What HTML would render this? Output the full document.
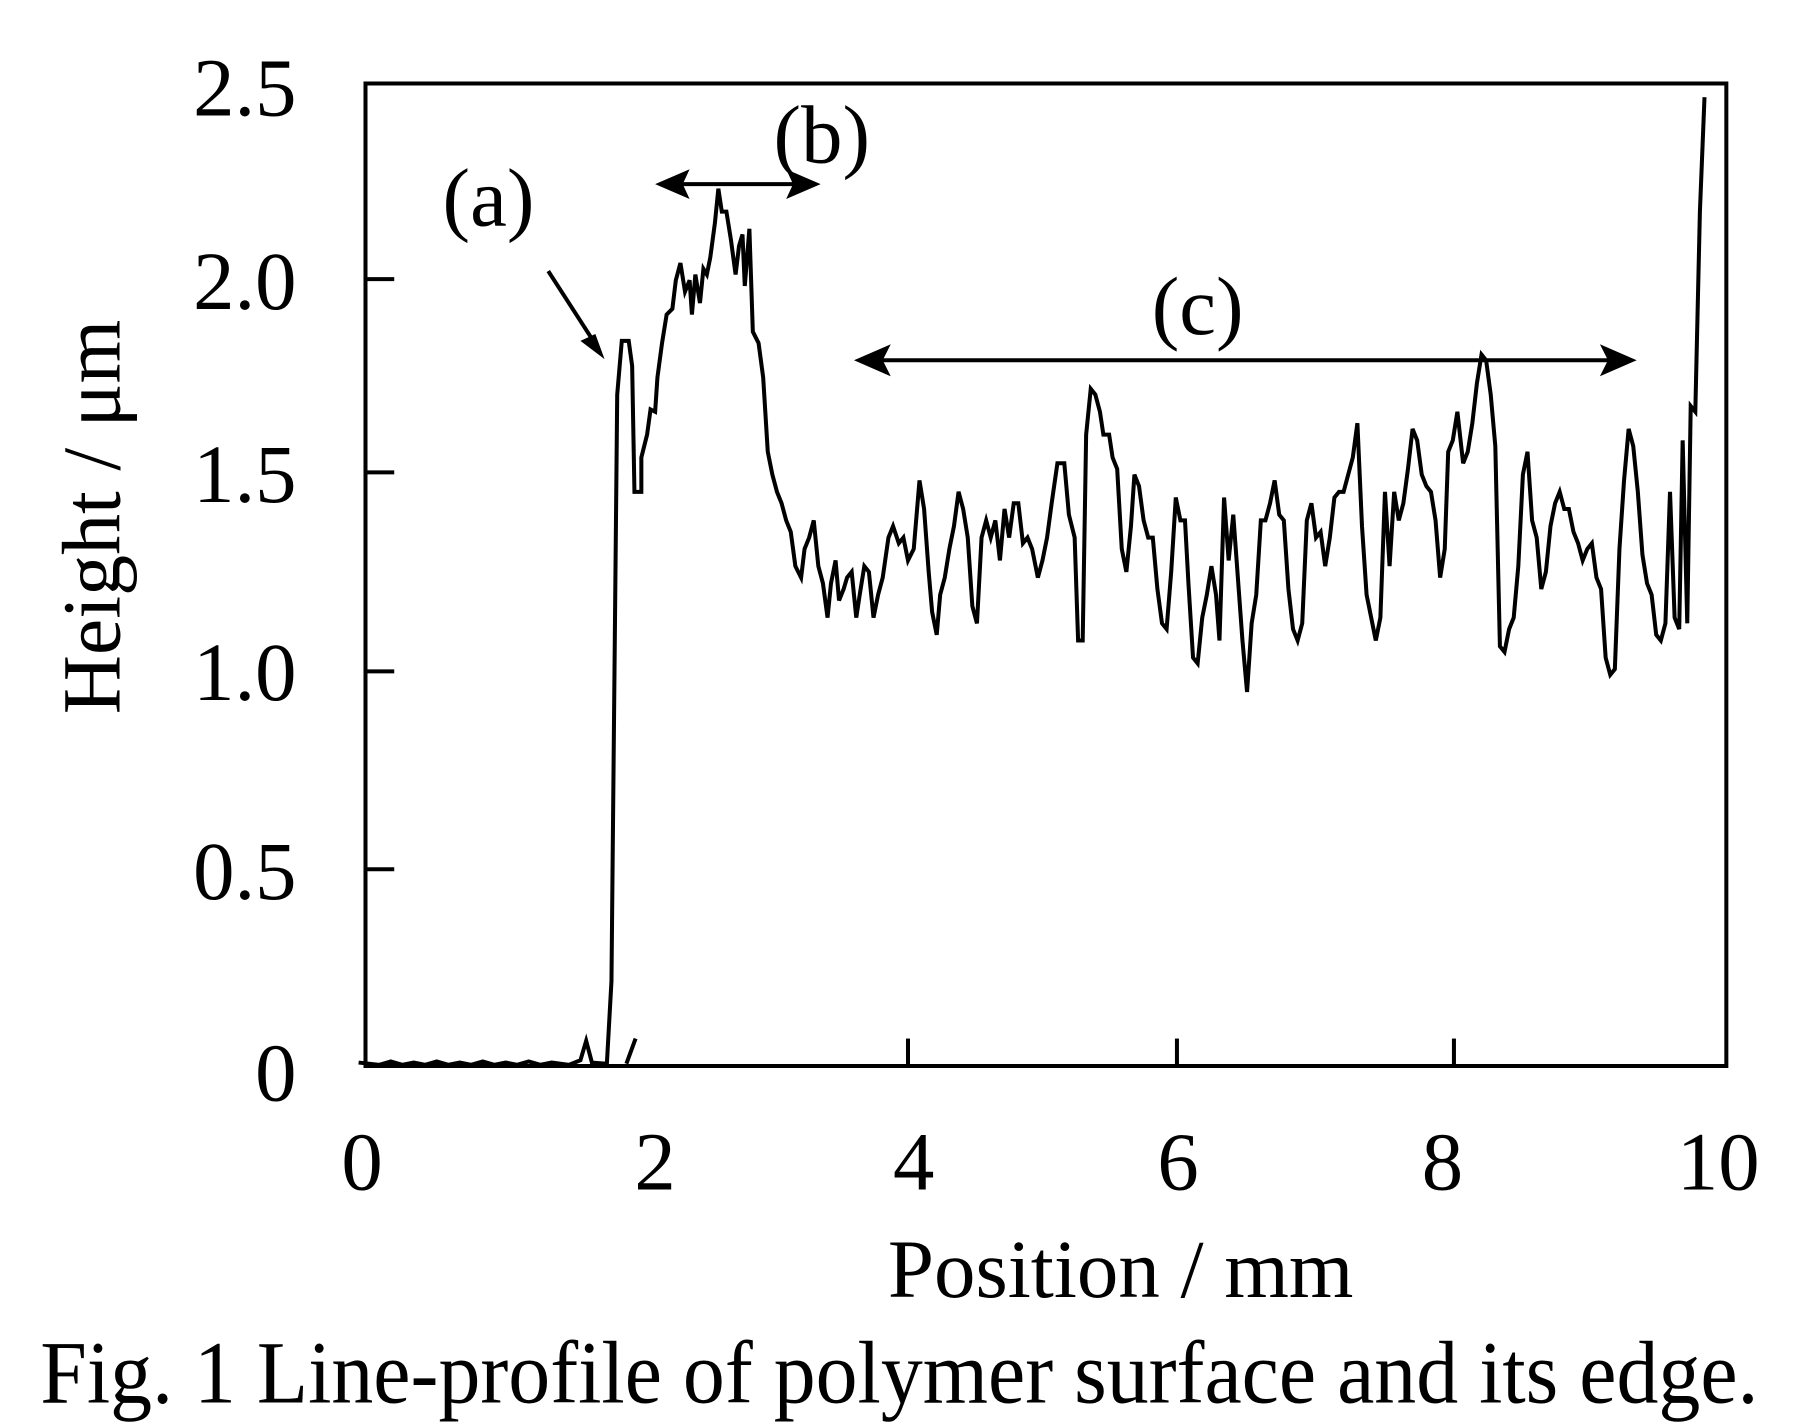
<!DOCTYPE html>
<html><head><meta charset="utf-8"><style>html,body{margin:0;padding:0;background:#fff}svg{display:block}</style></head>
<body>
<svg width="1793" height="1424" viewBox="0 0 1560 1245" preserveAspectRatio="none" xmlns="http://www.w3.org/2000/svg" font-family="Liberation Serif, serif" fill="#000">
<rect x="318" y="73" width="1184" height="859" fill="none" stroke="#000" stroke-width="3.5"/>
<g stroke="#000" stroke-width="3.5">
<line x1="318" y1="244" x2="343" y2="244"/><line x1="318" y1="413" x2="343" y2="413"/><line x1="318" y1="587" x2="343" y2="587"/><line x1="318" y1="760" x2="343" y2="760"/>
<line x1="790" y1="932" x2="790" y2="908"/><line x1="1024" y1="932" x2="1024" y2="908"/><line x1="1265" y1="932" x2="1265" y2="908"/>
</g>
<g font-size="72" text-anchor="end">
<text x="258" y="101">2.5</text><text x="258" y="270">2.0</text><text x="258" y="439">1.5</text><text x="258" y="612">1.0</text><text x="258" y="786">0.5</text><text x="258" y="962">0</text>
</g>
<g font-size="72" text-anchor="middle">
<text x="315" y="1040">0</text><text x="570" y="1040">2</text><text x="795" y="1040">4</text><text x="1025" y="1040">6</text><text x="1255" y="1040">8</text><text x="1495" y="1040">10</text>
<text x="975" y="1134" textLength="405" lengthAdjust="spacingAndGlyphs">Position / mm</text>
<text x="425" y="197">(a)</text><text x="715" y="142">(b)</text><text x="1042" y="292">(c)</text>
</g>
<text transform="translate(104,452) rotate(-90)" font-size="72" text-anchor="middle" textLength="345" lengthAdjust="spacingAndGlyphs">Height / μm</text>
<text x="35" y="1226" font-size="78" textLength="1495" lengthAdjust="spacingAndGlyphs">Fig. 1 Line-profile of polymer surface and its edge.</text>
<g stroke="#000" stroke-width="3.5" fill="none">
<line x1="477" y1="237" x2="520" y2="304"/>
<line x1="580" y1="161" x2="704" y2="161"/>
<line x1="755" y1="315" x2="1412" y2="315"/>
</g>
<g fill="#000">
<polygon points="526,314 505,298 518,292"/>
<polygon points="570,161 600,148 594,161 600,174"/>
<polygon points="714,161 684,148 690,161 684,174"/>
<polygon points="743,315 775,301 768,315 775,329"/>
<polygon points="1424,315 1392,301 1399,315 1392,329"/>
</g>
<polyline id="prof" fill="none" stroke="#000" stroke-width="3.5" stroke-linejoin="miter" points="312,929 330,931 340,928 350,931 360,929 370,931 380,928 390,931 400,929 410,931 420,928 430,931 440,929 450,931 460,928 470,931 480,929 495,931 505,927 510,910 515,929 528,930 532,858 537,345 541,298 547,298 550,320 552,430 558,430 558,400 563,380 566,358 570,360 572,330 576,300 580,275 585,270 588,245 592,230 596,255 600,245 602,275 605,240 609,265 612,235 615,240 618,225 622,195 625,165 628,185 632,185 636,210 640,240 643,215 646,205 648,250 652,200 655,290 660,300 664,330 668,395 672,415 676,430 680,440 684,455 688,465 692,495 697,505 700,480 704,470 708,455 712,495 716,510 720,540 723,510 727,490 730,525 734,515 737,505 741,500 745,540 748,520 752,495 756,500 760,540 764,520 768,505 773,470 777,460 782,475 786,470 790,490 795,480 800,420 804,445 808,500 811,535 815,555 818,520 822,505 826,480 830,460 834,430 838,445 842,470 846,530 850,545 854,470 858,455 862,470 866,455 870,490 874,445 878,470 882,440 886,440 890,475 894,470 898,480 903,505 907,490 911,470 915,440 920,405 926,405 930,450 935,470 938,560 942,560 945,380 949,340 953,345 957,360 960,380 965,380 968,400 972,410 976,480 980,500 984,460 987,415 991,425 995,455 999,470 1003,470 1007,515 1011,545 1015,550 1019,500 1023,435 1027,455 1031,455 1034,510 1038,575 1042,580 1046,540 1050,520 1054,495 1058,520 1061,560 1065,435 1069,490 1073,450 1077,505 1081,560 1085,605 1089,545 1093,520 1097,455 1101,455 1105,440 1109,420 1113,450 1117,455 1121,515 1125,550 1129,560 1133,545 1137,455 1141,440 1145,470 1149,465 1153,495 1157,470 1161,435 1165,430 1169,430 1173,415 1177,400 1181,370 1185,460 1189,520 1193,540 1197,560 1201,540 1205,430 1209,495 1213,430 1217,455 1221,440 1225,410 1229,375 1233,385 1237,415 1241,425 1245,430 1249,455 1253,505 1257,480 1260,395 1264,385 1268,360 1273,405 1277,395 1281,370 1285,335 1289,310 1293,315 1297,345 1301,390 1305,565 1309,570 1313,550 1317,540 1321,495 1325,415 1329,395 1333,455 1337,470 1341,515 1345,500 1349,460 1353,440 1357,430 1361,445 1365,445 1369,465 1373,475 1377,490 1381,480 1385,475 1389,505 1393,515 1397,575 1401,590 1405,585 1409,480 1413,420 1417,375 1421,390 1425,430 1429,485 1433,510 1437,520 1441,555 1445,560 1449,545 1453,430 1457,540 1461,550 1464,385 1468,545 1471,355 1475,360 1479,185 1483,85"/>
<line x1="545" y1="930" x2="553" y2="908" stroke="#000" stroke-width="3.5"/>
</svg>
</body></html>
